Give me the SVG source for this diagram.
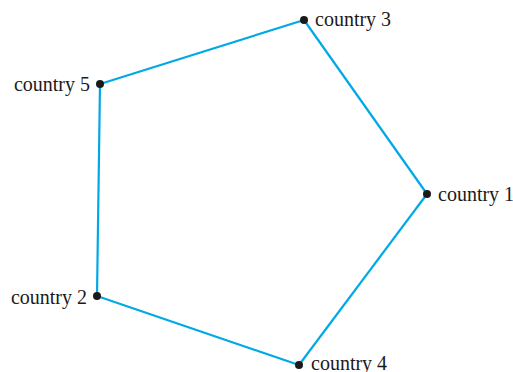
<svg xmlns="http://www.w3.org/2000/svg" width="513" height="372" viewBox="0 0 513 372">
<style>
.edge{stroke:#00a9e6;stroke-width:2.2;fill:none;stroke-linejoin:round}
.dot{fill:#1a1a1a}
.lbl{font-family:"Liberation Serif","Times New Roman",serif;font-size:20px;fill:#1a1a1a}
</style>
<rect width="513" height="372" fill="#fff"/>
<g id="connectors">
<line class="edge" x1="304" y1="20" x2="427" y2="194"/>
<line class="edge" x1="427" y1="194" x2="299" y2="365"/>
<line class="edge" x1="299" y1="365" x2="97" y2="296"/>
<line class="edge" x1="97" y1="296" x2="100" y2="84"/>
<line class="edge" x1="100" y1="84" x2="304" y2="20"/>
</g>
<g id="country1"><circle class="dot" cx="427" cy="194" r="4"/><text class="lbl" x="438" y="201">country 1</text></g>
<g id="country2"><circle class="dot" cx="97" cy="296" r="4"/><text class="lbl" x="87" y="304" text-anchor="end">country 2</text></g>
<g id="country3"><circle class="dot" cx="304" cy="20" r="4"/><text class="lbl" x="315" y="26">country 3</text></g>
<g id="country4"><circle class="dot" cx="299" cy="365" r="4"/><text class="lbl" x="311" y="370">country 4</text></g>
<g id="country5"><circle class="dot" cx="100" cy="84" r="4"/><text class="lbl" x="90" y="91" text-anchor="end">country 5</text></g>
</svg>
